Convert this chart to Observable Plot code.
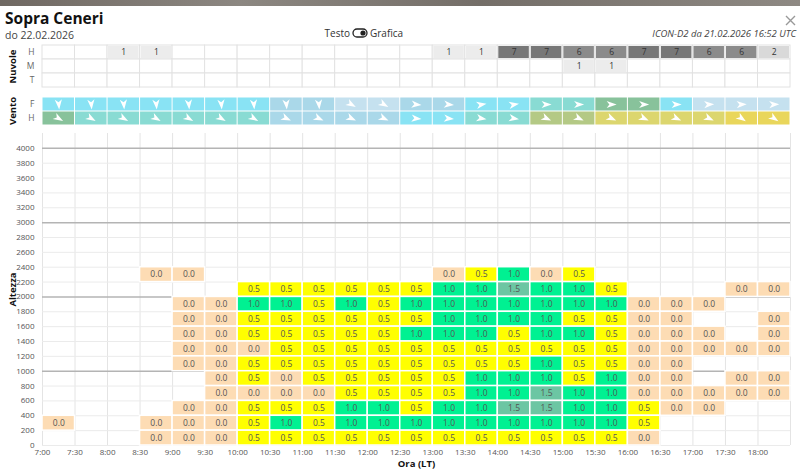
<!DOCTYPE html>
<html>
<head>
<meta charset="utf-8">
<script src="https://cdn.jsdelivr.net/npm/d3@7"></script>
<script src="https://cdn.jsdelivr.net/npm/@observablehq/plot@0.6"></script>
<style>
  body { margin: 0; width: 800px; height: 473px; overflow: hidden; background: #fff; position: relative; font-family: "Open Sans", sans-serif; }
  #topband { position: absolute; left: 0; top: 0; width: 800px; height: 6px; background: linear-gradient(90deg, #6f6862, #8c8781 30%, #746e68 60%, #8e8983); }
  .panel { position: absolute; left: 0; }
  #header { position: absolute; left: 0; top: 0; }
</style>
</head>
<body>
<div id="topband"></div>
<svg id="header" width="800" height="44" font-family="Open Sans, sans-serif">
  <text x="5" y="24" font-size="15.5" font-weight="700" fill="#111">Sopra Ceneri</text>
  <text x="5" y="38.5" font-size="10.5" fill="#444">do 22.02.2026</text>
  <text x="350" y="37" font-size="10" fill="#333" text-anchor="end">Testo</text>
  <rect x="353" y="29" width="14" height="8" rx="4" fill="none" stroke="#222" stroke-width="1.3"></rect>
  <circle cx="363" cy="33" r="2.6" fill="#222"></circle>
  <text x="370" y="37" font-size="10" fill="#333">Grafica</text>
  <text x="796" y="37" font-size="9.5" font-style="italic" fill="#444" text-anchor="end">ICON-D2 da 21.02.2026 16:52 UTC</text>
  <path d="M786 16 L795 25 M795 16 L786 25" stroke="#999" stroke-width="1.4" fill="none"></path>
</svg>
<div id="clouds" class="panel" style="top:40px"></div>
<div id="wind" class="panel" style="top:92px"></div>
<div id="main" class="panel" style="top:128px"></div>
<script>
// Half-hour slots of the forecast day (slot start, local time)
const timeLabels = ["7:00","7:30","8:00","8:30","9:00","9:30","10:00","10:30","11:00","11:30","12:00",
  "12:30","13:00","13:30","14:00","14:30","15:00","15:30","16:00","16:30","17:00","17:30","18:00"];

// Cloud cover (octas) per level: H alte, M medie, T basse
const cloudH = [null,null,1,1,null,null,null,null,null,null,null,null,1,1,7,7,6,6,7,7,6,6,2];
const cloudM = [null,null,null,null,null,null,null,null,null,null,null,null,null,null,null,null,1,1,null,null,null,null,null];
const cloudT = [null,null,null,null,null,null,null,null,null,null,null,null,null,null,null,null,null,null,null,null,null,null,null];

// Wind: speed class and direction the wind blows towards (degrees, 0 = N)
const windFClass = [3,3,3,3,3,3,3,2,2,1,1,2,2,3,3,4,4,5,5,3,1,1,1];
const windHClass = [5,4,4,4,4,4,4,2,2,2,2,3,3,4,4,6,6,7,7,7,7,8,8];
const windFDir = [175,175,175,175,175,175,175,175,175,120,120,95,95,80,80,90,90,90,90,90,88,88,88];
const windHDir = [120,120,120,120,120,120,120,115,115,115,115,95,95,100,100,115,115,115,115,115,115,125,125];
const windClassColors = ["#c5e1ef","#aad8e9","#89e3f4","#89dbd3","#88c29b","#b4c985","#dcd66e","#e9d65b"];

// Thermal strength (m/s) per 200 m altitude band, keyed by band base
const altBands = [2200,2000,1800,1600,1400,1200,1000,800,600,400,200,0];
const thermals = [
  [null,null,null,0,0,null,null,null,null,null,null,null,0,0.5,1,0,0.5,null,null,null,null,null,null],
  [null,null,null,null,null,null,0.5,0.5,0.5,0.5,0.5,0.5,1,1,1.5,1,1,0.5,null,null,null,0,0],
  [null,null,null,null,0,0,1,1,0.5,1,0.5,1,1,1,1,1,1,1,0,0,0,null,null],
  [null,null,null,null,0,0,0.5,0.5,0.5,0.5,0.5,0.5,1,1,1,1,0.5,0.5,0,0,null,null,0],
  [null,null,null,null,0,0,0.5,0.5,0.5,0.5,0.5,1,1,1,0.5,1,1,0.5,0,0,0,null,0],
  [null,null,null,null,0,0,0,0.5,0.5,0.5,0.5,0.5,0.5,0.5,0.5,0.5,0.5,0.5,0,0,0,0,0],
  [null,null,null,null,0,0,0.5,0.5,0.5,0.5,0.5,0.5,0.5,0.5,0.5,1,0.5,0.5,0,0,null,null,null],
  [null,null,null,null,null,0,0.5,0,0.5,0.5,0.5,0.5,0.5,1,1,1,0.5,1,0,0,null,0,0],
  [null,null,null,null,null,0,0,0,0,0.5,0.5,0.5,0.5,1,1,1.5,1,1,0,0,0,0,0],
  [null,null,null,null,0,0,0.5,0.5,0.5,1,1,0.5,1,1,1.5,1.5,1,1,0.5,0,0,null,null],
  [0,null,null,0,0,0,0.5,1,0.5,1,1,1,1,1,1,1,1,1,0.5,null,null,null,null],
  [null,null,null,0,0,0,0.5,0.5,0.5,0.5,0.5,0.5,0.5,0.5,0.5,0.5,0.5,0.5,0,null,null,null,null]
];
const thermalClasses = [0, 0.5, 1, 1.5];
const thermalColors = ["#fddcb4", "#ffff00", "#00f192", "#6cc6a3"];
const altTicks = [0,200,400,600,800,1000,1200,1400,1600,1800,2000,2200,2400,2600,2800,3000,3200,3400,3600,3800,4000];
const majorAlt = [1000,2000,3000,4000];

const toMin = s => { const [h, m] = s.split(":").map(Number); return h * 60 + m; };
const starts = timeLabels.map(toMin);
const slotEnd = starts[starts.length - 1] + 30;
const fmtTime = m => `${Math.floor(m / 60)}:${m % 60 === 0 ? "00" : "30"}`;

// Paper-plane arrowhead pointing east; rotated per cell by the wind direction
const plane = {
  draw(ctx, size) {
    const r = Math.sqrt(size / Math.PI);
    ctx.moveTo(r, 0);
    ctx.lineTo(-r, -0.72 * r);
    ctx.lineTo(-0.45 * r, 0);
    ctx.lineTo(-r, 0.72 * r);
    ctx.closePath();
  }
};

const common = {
  width: 800,
  marginLeft: 42,
  marginRight: 10,
  style: { fontFamily: "Open Sans, sans-serif", fontSize: "8px", color: "#555", background: "transparent", overflow: "visible" }
};
const xScale = { type: "linear", domain: [starts[0], slotEnd] };
const sideTitle = (label) => Plot.text([label], {
  frameAnchor: "left", dx: -30, rotate: -90, textAnchor: "middle",
  fontWeight: "bold", fontSize: 9.5, fill: "#111"
});
// Row names (H/M/T, F/H) written just left of the grid
const rowNames = (names) => Plot.text(names, {
  y: d => d, text: d => d, frameAnchor: "left", dx: -8, textAnchor: "end", fontSize: 8.5, fill: "#666"
});

// --- Nuvole ---
const cloudLevels = ["H", "M", "T"];
const cloudRows = { H: cloudH, M: cloudM, T: cloudT };
const cloudAll = cloudLevels.flatMap(l => starts.map((s, i) => ({ level: l, start: s, value: cloudRows[l][i] })));
const cloudFilled = cloudAll.filter(d => d.value != null);

document.getElementById("clouds").append(Plot.plot({
  ...common,
  height: 52, marginTop: 4, marginBottom: 4,
  x: { ...xScale, axis: null },
  y: { type: "band", domain: cloudLevels, padding: 0, axis: null },
  color: { type: "linear", domain: [1, 7], range: ["#ececec", "#777777"] },
  marks: [
    Plot.barX(cloudAll, { x1: "start", x2: d => d.start + 30, y: "level", fill: "white", stroke: "#e2e2e2" }),
    Plot.barX(cloudFilled, { x1: "start", x2: d => d.start + 30, y: "level", fill: "value", inset: 1 }),
    Plot.text(cloudFilled, { x: d => d.start + 15, y: "level", text: d => String(d.value), fill: "#333", fontSize: 8.5 }),
    rowNames(cloudLevels),
    sideTitle("Nuvole")
  ]
}));

// --- Vento ---
const windLevels = ["F", "H"];
const windData = windLevels.flatMap(l => starts.map((s, i) => ({
  level: l, start: s,
  cls: l === "F" ? windFClass[i] : windHClass[i],
  dir: l === "F" ? windFDir[i] : windHDir[i]
})));

document.getElementById("wind").append(Plot.plot({
  ...common,
  height: 36, marginTop: 4, marginBottom: 3,
  x: { ...xScale, axis: null },
  y: { type: "band", domain: windLevels, padding: 0, axis: null },
  color: { type: "ordinal", domain: [1,2,3,4,5,6,7,8], range: windClassColors },
  marks: [
    Plot.barX(windData, { x1: "start", x2: d => d.start + 30, y: "level", fill: "cls", inset: 0.5 }),
    Plot.dot(windData, { x: d => d.start + 15, y: "level", symbol: plane, r: 5, rotate: d => d.dir - 90, fill: "white", stroke: null }),
    rowNames(windLevels),
    sideTitle("Vento")
  ]
}));

// --- Termiche per quota ---
const cells = altBands.flatMap((alt, r) => starts.map((s, i) => ({ alt, start: s, value: thermals[r][i] })))
  .filter(d => d.value != null);
const minorAlt = altTicks.filter(a => !majorAlt.includes(a));

document.getElementById("main").append(Plot.plot({
  ...common,
  height: 345, marginTop: 5, marginBottom: 28,
  x: { ...xScale, axis: null },
  y: { domain: [0, 4200], axis: null },
  color: { type: "ordinal", domain: thermalClasses, range: thermalColors },
  marks: [
    Plot.ruleX([...starts, slotEnd], { stroke: "#e4e4e4" }),
    Plot.ruleY(minorAlt, { stroke: "#ebebeb" }),
    Plot.ruleY(majorAlt, { stroke: "#b4b4b4", strokeWidth: 1.5 }),
    Plot.rect(cells, { x1: "start", x2: d => d.start + 30, y1: "alt", y2: d => d.alt + 200, fill: "value", stroke: "white", strokeWidth: 1.5 }),
    Plot.text(cells, { x: d => d.start + 15, y: d => d.alt + 100, text: d => d.value.toFixed(1), fill: "#555", fontSize: 8.5 }),
    Plot.axisX({ ticks: starts, tickFormat: fmtTime, tickSize: 0, tickPadding: 4, fontSize: 8, label: null, fill: "#555" }),
    Plot.axisY({ ticks: altTicks, tickFormat: d => String(d), tickSize: 0, tickPadding: 8, fontSize: 8, label: null, fill: "#555" }),
    sideTitle("Altezza"),
    Plot.text(["Ora (LT)"], { frameAnchor: "bottom", dy: 21, fontWeight: "bold", fontSize: 9.5, fill: "#111" })
  ]
}));
</script>
</body>
</html>
